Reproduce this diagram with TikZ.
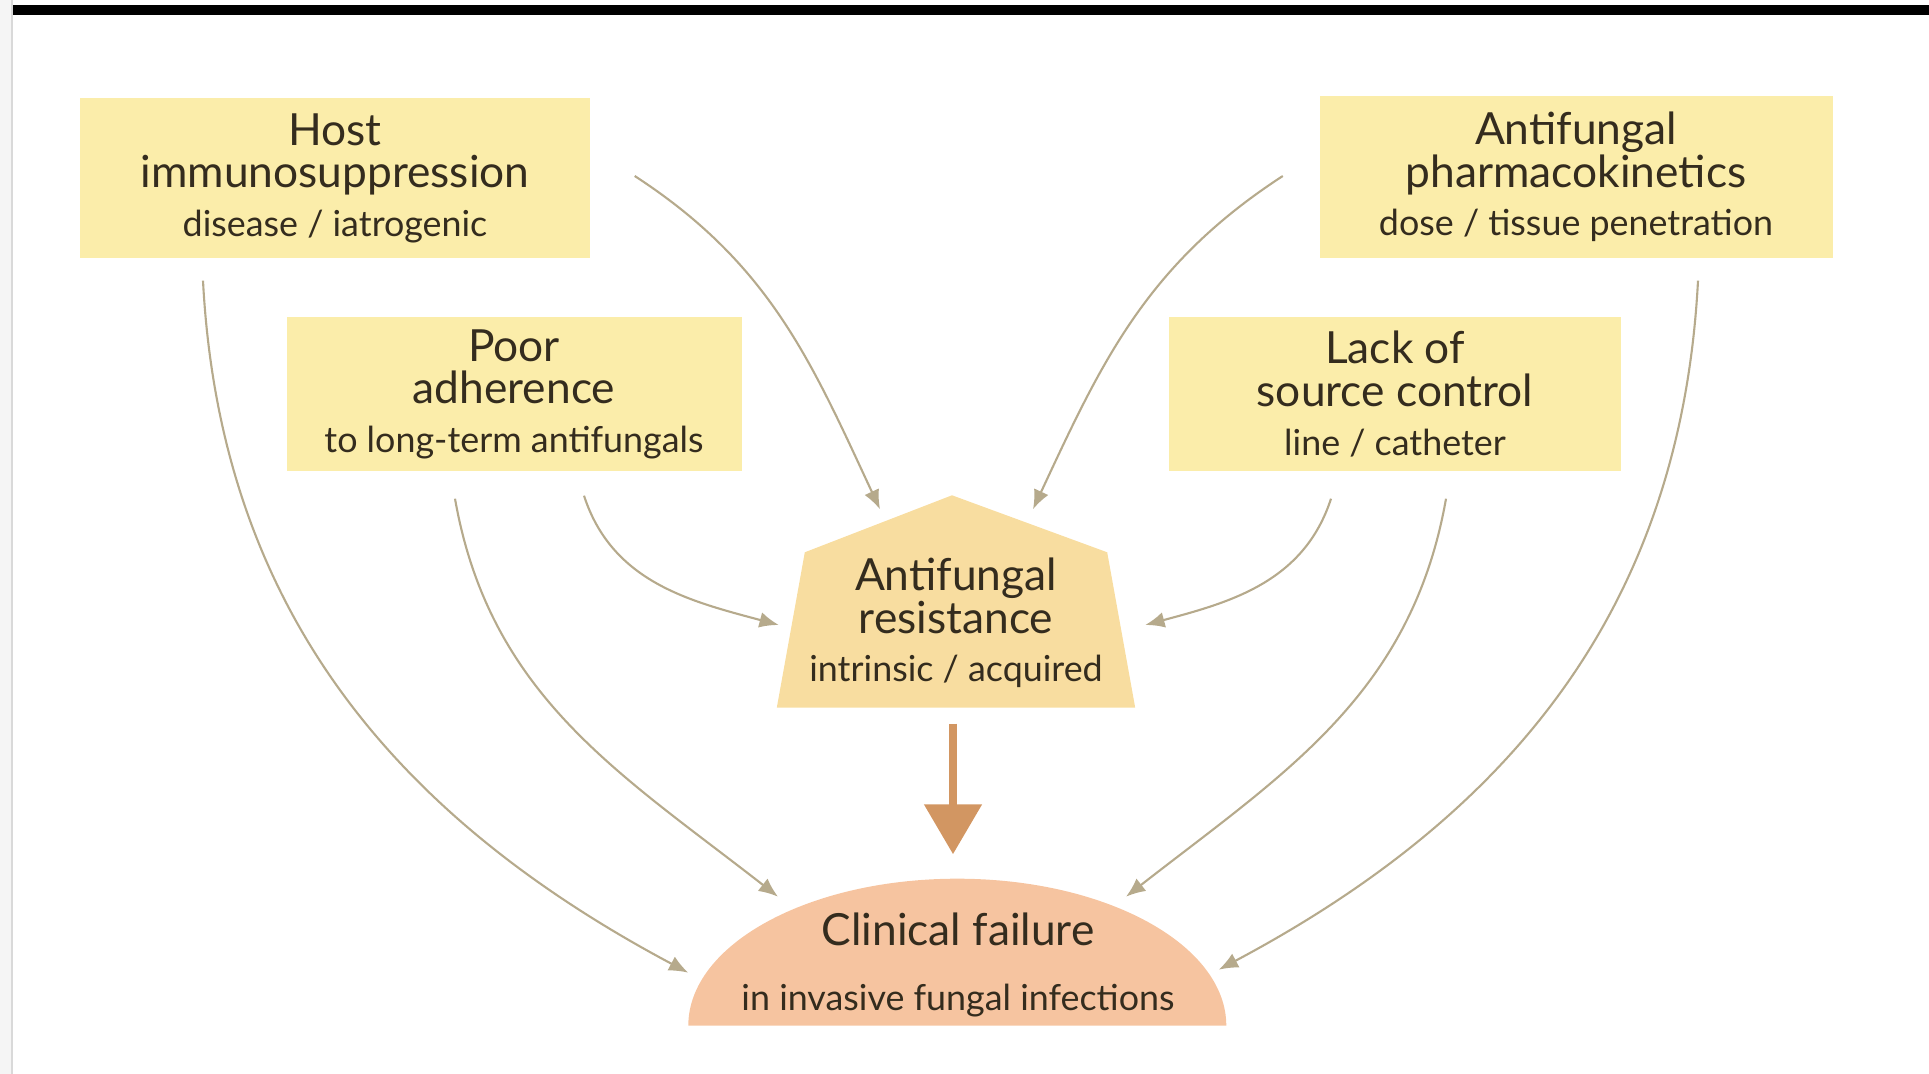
\documentclass[tikz,border=0pt]{standalone}
\usepackage{fontspec}
\setmainfont{Lato}
\usepackage{tikz}
\usetikzlibrary{arrows.meta,backgrounds,calc,positioning}
\definecolor{boxfill}{RGB}{251,237,170}
\definecolor{resfill}{RGB}{248,221,160}
\definecolor{failfill}{RGB}{246,196,160}
\definecolor{linkcol}{RGB}{182,170,140}
\definecolor{bigarrow}{RGB}{210,150,98}
\definecolor{txtcol}{RGB}{52,44,30}
\newcommand{\subtxt}[1]{{\fontsize{10.2}{12}\selectfont #1}}
\tikzset{
  factor/.style={fill=boxfill, text=txtcol, align=center, inner sep=0pt,
    font=\fontsize{12.6}{12.2}\selectfont},
  centre/.style={text=txtcol, align=center, inner sep=0pt,
    font=\fontsize{12.6}{12.2}\selectfont},
  link/.style={draw=linkcol, line width=0.6pt, -{Latex[length=5.5pt,width=4.5pt]}},
}

\begin{document}
\begin{tikzpicture}[x=0.1mm,y=0.1mm]
\useasboundingbox (0,0) rectangle (1929,-1074);
\fill[black!4] (0,0) rectangle (12,-1074);
\draw[black!15, line width=0.4pt] (12,0) -- (12,-1074);
\fill[black] (13,-5) rectangle (1929,-15);

\node[factor, minimum width=51mm, minimum height=16mm] (host) at (335,-178)
  {Host\\immunosuppression\\[1.5pt]\subtxt{disease / iatrogenic}};
\node[factor, minimum width=45.5mm, minimum height=15.4mm] (adher) at (514,-394)
  {Poor\\adherence\\[1.5pt]\subtxt{to long-term antifungals}};
\node[factor, minimum width=51.3mm, minimum height=16.2mm] (pk) at (1576,-177)
  {Antifungal\\pharmacokinetics\\[1.5pt]\subtxt{dose / tissue penetration}};
\node[factor, minimum width=45.2mm, minimum height=15.4mm] (lack) at (1395,-394)
  {Lack of\\source control\\[1.5pt]\subtxt{line / catheter}};

\node[centre, minimum width=35.7mm, minimum height=16.8mm] (resist) at (956,-623)
  {Antifungal\\resistance\\[1.5pt]\subtxt{intrinsic / acquired}};
\node[centre, minimum width=53.8mm, minimum height=12mm] (fail) at (958,-965)
  {Clinical failure\\[6.3pt]\subtxt{in invasive fungal infections}};

\begin{scope}[on background layer]
\fill[resfill] (resist.south west) -- ($(resist.north west)+(28,-14)$) -- ($(resist.north)+(-4,43)$)
  -- ($(resist.north east)+(-28,-14)$) -- (resist.south east) -- cycle;
\fill[failfill] (fail.south west) arc[start angle=180, end angle=0, x radius=26.9mm, y radius=14.7mm] -- cycle;
\end{scope}

% factors into resistance
\draw[link] ($(host.east)+(44,2)$) to[out=-33, in=115] ($(resist.north)+(-76,29)$);
\draw[link] ($(pk.west)+(-36,1)$) to[out=-147, in=65] ($(resist.north)+(77,29)$);
\draw[link] ($(adher.south)+(70,-24)$) to[out=-72, in=165] ($(resist.west)+(2,-2)$);
\draw[link] ($(lack.south)+(-64,-27)$) to[out=-108, in=15] ($(resist.east)+(10,-2)$);

% factors into clinical failure
\draw[link] ($(host.south)+(-132,-22)$) to[out=-87, in=152] ($(fail.south west)+(0,53)$);
\draw[link] ($(adher.south)+(-59,-27)$) to[out=-80, in=142] ($(fail.south)+(-180,129)$);
\draw[link] ($(lack.south)+(51,-27)$) to[out=-100, in=38] ($(fail.south)+(168,129)$);
\draw[link] ($(pk.south)+(122,-22)$) to[out=-93, in=28] ($(fail.south east)+(-9,56)$);

\draw[bigarrow, line width=2.4pt, -{Triangle[length=5mm,width=5.6mm]}] ($(resist.south)+(-3,-16)$) -- ($(fail.north)+(-5,50)$);
\end{tikzpicture}
\end{document}
